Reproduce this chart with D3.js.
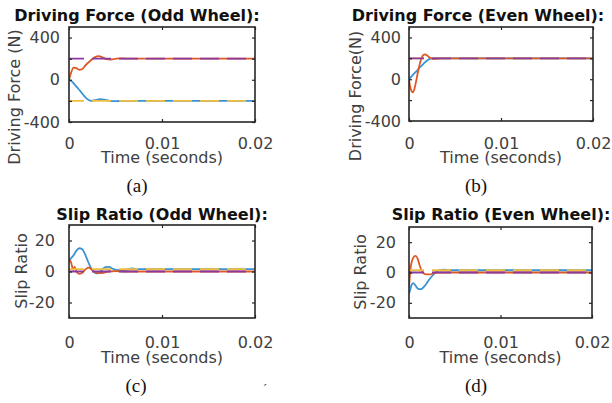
<!DOCTYPE html>
<html>
<head>
<meta charset="utf-8">
<script src="https://cdn.jsdelivr.net/npm/d3@7"></script>
<style>
  body { margin: 0; background: #fff; }
  svg { display: block; }
</style>
</head>
<body>
<div id="chart"></div>
<script>

// values: [time (ms), value]
var forceOddBlue = [[0,0],[0.3,-15],[0.6,-45],[0.9,-75],[1.2,-105],[1.5,-140],[1.8,-170],[2.1,-192],[2.4,-200],[2.8,-193],[3.3,-184],[3.8,-188],[4.4,-199],[5,-202],[6,-200],[20,-200]];
var forceOddOrange = [[0,0],[0.2,60],[0.5,115],[0.8,110],[1.1,95],[1.4,100],[1.8,140],[2.3,180],[2.8,215],[3.2,225],[3.6,212],[4.0,196],[4.5,192],[5.0,199],[5.5,203],[6.2,200],[20,200]];
var forceOddRefs = [-200, 200];   // yellow, purple

var forceEvenBlue = [[0,0],[0.4,40],[0.8,75],[1.2,115],[1.6,150],[2.0,182],[2.4,200],[2.8,205],[3.2,200],[20,200]];
var forceEvenOrange = [[0,0],[0.1,-60],[0.25,-110],[0.4,-125],[0.55,-105],[0.75,-30],[0.95,60],[1.15,140],[1.35,200],[1.55,232],[1.75,238],[2.0,225],[2.3,205],[2.6,193],[3.0,195],[3.4,200],[20,200]];
var forceEvenRefs = [200, 200];

var slipOddBlue = [[0,7],[0.2,8.5],[0.5,10.5],[0.8,13.5],[1.1,15],[1.4,14.5],[1.7,11.5],[2.0,7],[2.3,3],[2.6,0.2],[2.9,-1.2],[3.2,-1],[3.5,0.8],[3.9,2.8],[4.3,3],[4.7,1.8],[5.1,1],[5.6,0.8],[6.2,1.2],[6.8,2],[7.4,1.5],[8,1.5],[20,1.5]];
var slipOddOrange = [[0,6],[0.15,7],[0.3,4],[0.45,1],[0.6,3],[0.8,0],[1.1,-1.5],[1.4,-1],[1.8,1.5],[2.1,2.5],[2.4,1.5],[2.8,-0.5],[3.2,-1],[3.7,-0.8],[4.2,0],[5,0.3],[6,0],[20,0]];
var slipOddRefs = [1.5, 0];

var slipEvenBlue = [[0,-14],[0.15,-11],[0.3,-8],[0.47,-7],[0.7,-8.5],[0.95,-10.5],[1.2,-11],[1.45,-10.5],[1.7,-9],[2.0,-6.5],[2.3,-4],[2.6,-1.8],[2.9,0],[3.3,1.5],[3.8,1.8],[4.5,1.5],[20,1.5]];
var slipEvenOrange = [[0,-10],[0.1,-2],[0.2,4],[0.35,8],[0.55,10.5],[0.75,11],[0.95,9],[1.15,5],[1.35,1.5],[1.6,-0.5],[1.9,-1.2],[2.3,-1.2],[2.7,-0.5],[3.1,0],[20,0]];
var slipEvenRefs = [1.5, 0];

var timeDomain = [0, 20];
var timeTicks = [0, 10, 20];
var timeTickLabels = ["0", "0.01", "0.02"];
var forceTicks = [-400, -200, 0, 200, 400];
var forceLabelled = [-400, 0, 400];
var slipTicks = [-20, 0, 20];

var blue = "#3a94d3", orange = "#dd5a28", yellow = "#efbe40", purple = "#8a3a9e";
var tickFont = "'DejaVu Sans', sans-serif";

var svg = d3.select("#chart").append("svg")
      .attr("width", 612)
      .attr("height", 403);
svg.append("rect").attr("width", 612).attr("height", 403).attr("fill", "#fff");

var panels = [
  { id: "a", box: [69, 255, 27, 122], yDomain: [-400, 500], yTicks: forceTicks, yLab: forceLabelled,
    padY: 9, padX: 16, blue: forceOddBlue, orange: forceOddOrange, refs: forceOddRefs,
    title: "Driving Force (Odd Wheel):", titleX: 137, titleY: 21,
    ylabel: "Driving Force (N)", ylabelX: 20, ylabelY: 97, timeY: 163, caption: "(a)", capX: 137, capY: 192 },
  { id: "b", box: [409, 593, 27, 121], yDomain: [-400, 500], yTicks: forceTicks, yLab: forceLabelled,
    padY: 8, padX: 17, blue: forceEvenBlue, orange: forceEvenOrange, refs: forceEvenRefs,
    title: "Driving Force (Even Wheel):", titleX: 478, titleY: 21,
    ylabel: "Driving Force(N)", ylabelX: 361, ylabelY: 96, timeY: 163, caption: "(b)", capX: 476, capY: 192 },
  { id: "c", box: [69, 255, 225, 318], yDomain: [-30, 30], yTicks: slipTicks, yLab: slipTicks,
    padY: 14, padX: 18.5, blue: slipOddBlue, orange: slipOddOrange, refs: slipOddRefs,
    title: "Slip Ratio (Odd Wheel):", titleX: 162, titleY: 220,
    ylabel: "Slip Ratio", ylabelX: 27, ylabelY: 271, timeY: 363, caption: "(c)", capX: 136, capY: 392 },
  { id: "d", box: [409, 592, 227, 318], yDomain: [-30, 30], yTicks: slipTicks, yLab: slipTicks,
    padY: 13, padX: 18.5, blue: slipEvenBlue, orange: slipEvenOrange, refs: slipEvenRefs,
    title: "Slip Ratio (Even Wheel):", titleX: 501, titleY: 220,
    ylabel: "Slip Ratio", ylabelX: 366, ylabelY: 272, timeY: 363, caption: "(d)", capX: 476, capY: 392 }
];

panels.forEach(drawPanel);

// small stray mark in the source page
svg.append("text").attr("x", 263).attr("y", 393).attr("font-family", "'Liberation Serif', serif")
      .attr("font-size", 12).attr("fill", "#333").text("\u00b4");

function drawPanel(p) {
      var left = p.box[0], right = p.box[1], top = p.box[2], bottom = p.box[3];
      var x = d3.scaleLinear().domain(timeDomain).range([left, right]);
      var y = d3.scaleLinear().domain(p.yDomain).range([bottom, top]);

      svg.append("clipPath").attr("id", "clip-" + p.id)
            .append("rect").attr("x", left).attr("y", top)
            .attr("width", right - left).attr("height", bottom - top);

      var line = d3.line()
            .x(function (d) { return x(d[0]); })
            .y(function (d) { return y(d[1]); })
            .curve(d3.curveMonotoneX);

      var g = svg.append("g").attr("clip-path", "url(#clip-" + p.id + ")");

      // measured wheels: solid
      g.append("path").datum(p.blue).attr("d", line)
            .attr("fill", "none").attr("stroke", blue).attr("stroke-width", 1.8);
      g.append("path").datum(p.orange).attr("d", line)
            .attr("fill", "none").attr("stroke", orange).attr("stroke-width", 1.8);

      // references: dashed, drawn on top
      [yellow, purple].forEach(function (c, i) {
            var v = p.refs[i];
            g.append("path").datum([[timeDomain[0], v], [timeDomain[1], v]]).attr("d", line)
                  .attr("fill", "none").attr("stroke", c).attr("stroke-width", 1.8)
                  .attr("stroke-dasharray", "19,8").attr("stroke-dashoffset", 4);
      });

      // axes with inward ticks
      var yLeft = svg.append("g").attr("transform", "translate(" + left + ",0)")
            .call(d3.axisLeft(y).tickValues(p.yTicks).tickSizeInner(-3).tickSizeOuter(0).tickPadding(p.padY)
                  .tickFormat(function (d) { return p.yLab.indexOf(d) >= 0 ? String(d) : ""; }));
      var yRight = svg.append("g").attr("transform", "translate(" + right + ",0)")
            .call(d3.axisRight(y).tickValues(p.yTicks).tickSizeInner(-3).tickSizeOuter(0).tickFormat(""));
      var xBottom = svg.append("g").attr("transform", "translate(0," + bottom + ")")
            .call(d3.axisBottom(x).tickValues(timeTicks).tickSizeInner(-3).tickSizeOuter(0).tickPadding(p.padX)
                  .tickFormat(function (d, i) { return timeTickLabels[i]; }));
      var xTop = svg.append("g").attr("transform", "translate(0," + top + ")")
            .call(d3.axisTop(x).tickValues(timeTicks).tickSizeInner(-3).tickSizeOuter(0).tickFormat(""));

      [yLeft, yRight, xBottom, xTop].forEach(function (a) {
            a.select(".domain").remove();
            a.selectAll("line").attr("stroke", "#262626").attr("stroke-width", 1.2);
            a.selectAll("text").attr("font-family", tickFont).attr("font-size", 16).attr("fill", "#404040");
      });

      svg.append("rect").attr("x", left).attr("y", top)
            .attr("width", right - left).attr("height", bottom - top)
            .attr("fill", "none").attr("stroke", "#262626").attr("stroke-width", 1.6);

      svg.append("text").attr("x", p.titleX).attr("y", p.titleY)
            .attr("text-anchor", "middle").attr("font-family", tickFont).attr("font-weight", "bold")
            .attr("font-size", 16).attr("fill", "#111").text(p.title);

      svg.append("text").attr("transform", "translate(" + p.ylabelX + "," + p.ylabelY + ") rotate(-90)")
            .attr("text-anchor", "middle").attr("font-family", tickFont)
            .attr("font-size", 16).attr("fill", "#404040").text(p.ylabel);

      svg.append("text").attr("x", (left + right) / 2).attr("y", p.timeY)
            .attr("text-anchor", "middle").attr("font-family", tickFont)
            .attr("font-size", 16).attr("fill", "#404040").text("Time (seconds)");

      svg.append("text").attr("x", p.capX).attr("y", p.capY)
            .attr("text-anchor", "middle").attr("font-family", "'Liberation Serif', 'Times New Roman', serif")
            .attr("font-size", 19).attr("fill", "#111").text(p.caption);
}
</script>
</body>
</html>
